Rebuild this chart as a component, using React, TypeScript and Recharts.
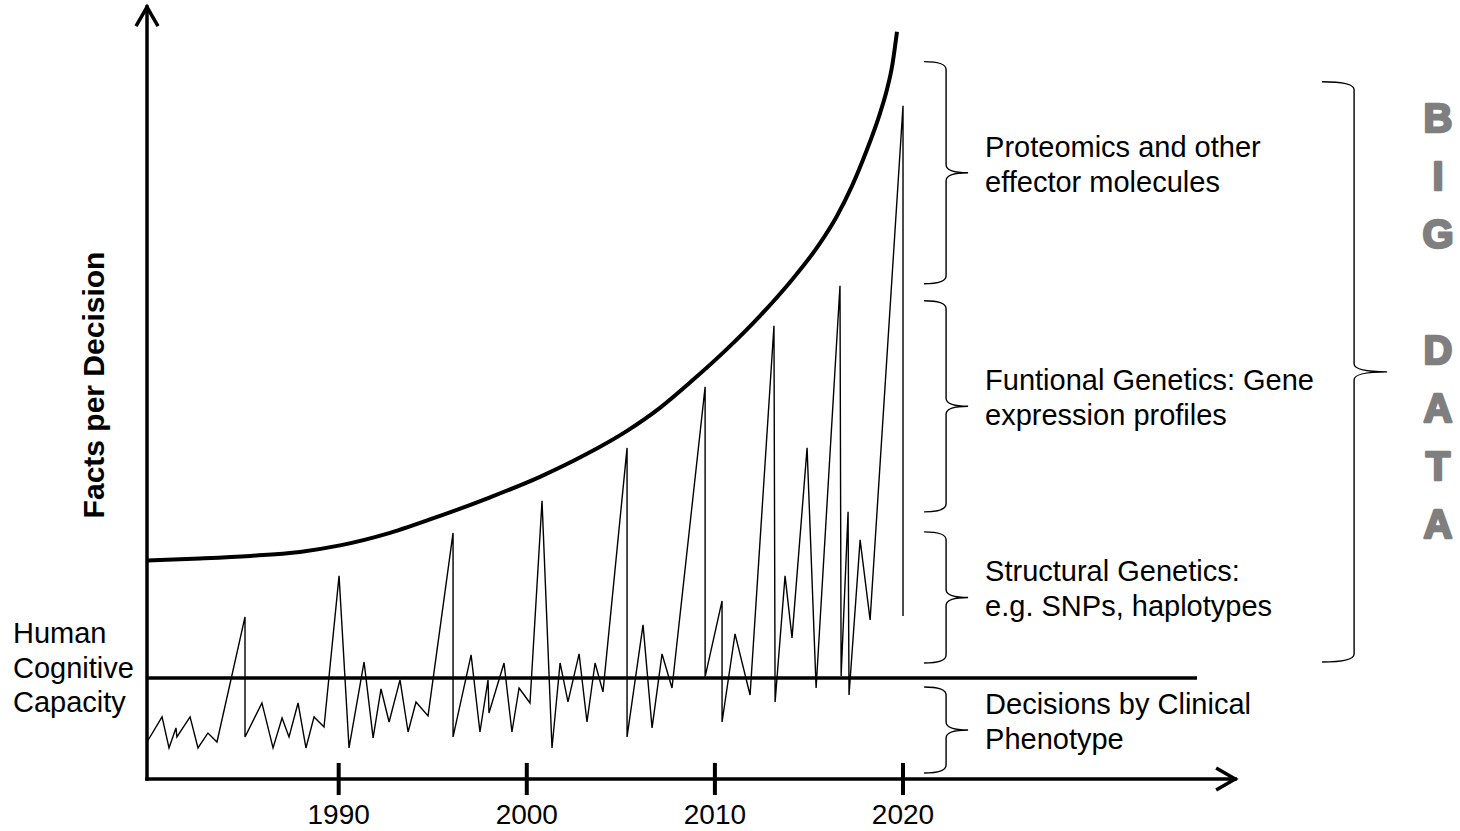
import { LineChart, Line, XAxis, YAxis, ReferenceLine } from 'recharts';

const W = 1460;
const H = 831;
const FONT = '"Liberation Sans", Arial, Helvetica, sans-serif';

// horizontal extent in years, vertical extent in "facts per decision" (arbitrary units)
const X_MIN = 1979.81;
const X_MAX = 2049.61;
const X_ARROW_END = 2037.66;
const Y_MAX = 101;

const yearTicks = [1990, 2000, 2010, 2020];

// thin zig-zag: facts per decision actually used in practice
const zigzagYears = [
  1979.81, 1980.61, 1980.98, 1981.35, 1981.4, 1982.1, 1982.52, 1983.05, 1983.53, 1985.02,
  1985.02, 1985.92, 1986.51, 1986.99, 1987.36, 1987.84, 1988.26, 1988.69, 1989.22, 1990.02,
  1990.55, 1991.35, 1991.83, 1992.25, 1992.68, 1993.26, 1993.69, 1994.11, 1994.75, 1996.08,
  1996.08, 1997.04, 1997.51, 1997.94, 1997.99, 1998.79, 1999.21, 1999.59, 2000.17, 2000.81,
  2001.34, 2001.77, 2002.19, 2002.78, 2003.2, 2003.63, 2004.05, 2005.33, 2005.33, 2006.18,
  2006.66, 2007.19, 2007.72, 2009.48, 2009.48, 2010.38, 2010.38, 2011.07, 2011.87, 2013.14,
  2013.2, 2013.73, 2014.1, 2014.9, 2015.38, 2016.65, 2016.71, 2017.08, 2017.13, 2017.72,
  2018.25, 2020.0, 2020.0,
];
const zigzagFacts = [
  4.84, 8.12, 4.06, 6.68, 5.5, 8.12, 4.06, 6.02, 4.84, 21.2,
  5.5, 9.95, 4.06, 7.98, 5.5, 9.95, 4.06, 8.12, 6.81, 26.57,
  4.06, 15.31, 5.37, 11.78, 7.46, 12.96, 6.15, 10.08, 8.25, 32.2,
  5.5, 16.23, 6.15, 12.96, 8.64, 15.18, 6.15, 11.91, 9.95, 36.39,
  4.06, 15.18, 10.08, 16.36, 7.46, 15.18, 11.39, 43.32, 5.5, 20.16,
  6.68, 16.36, 11.91, 51.31, 13.35, 23.3, 7.46, 18.98, 10.99, 59.29,
  10.08, 26.57, 18.46, 43.32, 11.91, 64.53, 13.48, 34.95, 10.99, 31.28,
  20.81, 88.09, 21.34,
];

// thick curve: facts available per decision
const curveYears = [
  1979.81, 1982.63, 1985.29, 1987.94, 1990.07, 1992.73, 1995.39, 1998.05, 2000.7, 2003.1,
  2005.33, 2007.08, 2008.84, 2010.65, 2012.4, 2013.99, 2015.59, 2016.49, 2017.29, 2018.03,
  2018.78, 2019.15, 2019.42, 2019.68,
];
const curveFacts = [
  28.6, 28.86, 29.19, 29.71, 30.56, 32.2, 34.42, 36.85, 39.53, 42.41,
  45.55, 48.56, 52.23, 56.28, 60.6, 65.0, 70.1, 73.66, 77.59, 81.99,
  87.12, 90.24, 93.25, 97.77,
];

const humanCapacity = 13.22;
const humanCapacityEnd = 2035.63;

const braceYear = 2022.29;
const braceTops = [93.85, 62.57, 32.33, 12.04];
const braceBottoms = [64.79, 34.95, 15.18, 0.79];
const braceLabels = [
  ['Proteomics and other', 'effector molecules'],
  ['Funtional Genetics: Gene', 'expression profiles'],
  ['Structural Genetics:', 'e.g. SNPs, haplotypes'],
  ['Decisions by Clinical', 'Phenotype'],
];

const bigBraceYear = 2043.98;
const bigBraceTop = 91.23;
const bigBraceBottom = 15.31;
const bigDataLetters = ['B', 'I', 'G', '', 'D', 'A', 'T', 'A'];

const zigzagData = zigzagYears.map((year, i) => ({ year, facts: zigzagFacts[i] }));
const curveData = curveYears.map((year, i) => ({ year, facts: curveFacts[i] }));

// line with an open arrow head at its far end
const arrowShape = (p: any) => {
  const { x1, y1, x2, y2 } = p;
  const horizontal = Math.abs(x2 - x1) > Math.abs(y2 - y1);
  const tipFirst = horizontal ? x1 > x2 : y1 < y2;
  const [bx, by, tx, ty] = tipFirst ? [x2, y2, x1, y1] : [x1, y1, x2, y2];
  const ang = Math.atan2(ty - by, tx - bx);
  const len = 22;
  const spread = Math.PI / 6;
  const w1x = tx - len * Math.cos(ang - spread);
  const w1y = ty - len * Math.sin(ang - spread);
  const w2x = tx - len * Math.cos(ang + spread);
  const w2y = ty - len * Math.sin(ang + spread);
  return (
    <g>
      <line x1={bx} y1={by} x2={tx} y2={ty} stroke="#000" strokeWidth={3.5} strokeLinecap="square" />
      <polyline
        points={`${w1x},${w1y} ${tx},${ty} ${w2x},${w2y}`}
        fill="none"
        stroke="#000"
        strokeWidth={3.5}
        strokeLinejoin="miter"
      />
    </g>
  );
};

// right-pointing curly brace between the two ends of a vertical segment
const braceShape = (arm: number, tip: number, lines?: string[]) => (p: any) => {
  const x = p.x1;
  const top = Math.min(p.y1, p.y2);
  const bot = Math.max(p.y1, p.y2);
  const mid = (top + bot) / 2;
  const r = 8;
  const d =
    `M${x - arm},${top} Q${x},${top} ${x},${top + r} L${x},${mid - r} ` +
    `Q${x},${mid} ${x + tip},${mid} Q${x},${mid} ${x},${mid + r} ` +
    `L${x},${bot - r} Q${x},${bot} ${x - arm},${bot}`;
  return (
    <g>
      <path d={d} fill="none" stroke="#000" strokeWidth={1.4} />
      {lines &&
        lines.map((t, i) => (
          <text key={i} x={x + 39} y={mid - 16 + i * 35} fontSize={29} fontFamily={FONT} fill="#000">
            {t}
          </text>
        ))}
    </g>
  );
};

const YearTick = (props: any) => {
  const { x, y, payload } = props;
  return (
    <text x={x} y={y + 45} textAnchor="middle" fontSize={28} fontFamily={FONT} fill="#000">
      {payload.value}
    </text>
  );
};

export default function App() {
  return (
    <div style={{ position: 'absolute', left: 0, top: 0, width: W, height: H, background: '#fff' }}>
      <LineChart width={W} height={H} margin={{ top: 7, right: 0, bottom: 0, left: 147 }}>
        <XAxis
          type="number"
          dataKey="year"
          domain={[X_MIN, X_MAX]}
          ticks={yearTicks}
          interval={0}
          height={52}
          axisLine={false}
          tickLine={false}
          tickSize={0}
          tickMargin={0}
          tick={YearTick}
          allowDataOverflow
        />
        <YAxis type="number" domain={[0, Y_MAX]} hide allowDataOverflow />

        <ReferenceLine
          segment={[{ x: X_MIN, y: 0 }, { x: X_MIN, y: Y_MAX }]}
          ifOverflow="visible"
          shape={arrowShape}
        />
        <ReferenceLine
          segment={[{ x: X_MIN, y: 0 }, { x: X_ARROW_END, y: 0 }]}
          ifOverflow="visible"
          shape={arrowShape}
        />
        {yearTicks.map((yr) => (
          <ReferenceLine
            key={yr}
            segment={[{ x: yr, y: -2.1 }, { x: yr, y: 2.1 }]}
            stroke="#000"
            strokeWidth={4}
            ifOverflow="visible"
          />
        ))}
        <ReferenceLine
          segment={[{ x: X_MIN, y: humanCapacity }, { x: humanCapacityEnd, y: humanCapacity }]}
          stroke="#000"
          strokeWidth={3.5}
          ifOverflow="visible"
        />
        {braceTops.map((top, i) => (
          <ReferenceLine
            key={'b' + i}
            segment={[{ x: braceYear, y: top }, { x: braceYear, y: braceBottoms[i] }]}
            ifOverflow="visible"
            shape={braceShape(22, 22, braceLabels[i])}
          />
        ))}
        <ReferenceLine
          segment={[{ x: bigBraceYear, y: bigBraceTop }, { x: bigBraceYear, y: bigBraceBottom }]}
          ifOverflow="visible"
          shape={braceShape(32, 33)}
        />

        <Line
          data={zigzagData}
          dataKey="facts"
          type="linear"
          stroke="#000"
          strokeWidth={1.4}
          dot={false}
          activeDot={false}
          isAnimationActive={false}
        />
        <Line
          data={curveData}
          dataKey="facts"
          type="monotone"
          stroke="#000"
          strokeWidth={4}
          dot={false}
          activeDot={false}
          isAnimationActive={false}
        />
      </LineChart>

      <svg
        width={W}
        height={H}
        style={{ position: 'absolute', left: 0, top: 0, pointerEvents: 'none' }}
      >
        <text
          x={93}
          y={385}
          transform="rotate(-90 93 385)"
          textAnchor="middle"
          dominantBaseline="central"
          fontSize={30}
          fontWeight="bold"
          fontFamily={FONT}
          fill="#000"
        >
          Facts per Decision
        </text>
        {['Human', 'Cognitive', 'Capacity'].map((t, i) => (
          <text key={t} x={13} y={643 + i * 34.5} fontSize={29} fontFamily={FONT} fill="#000">
            {t}
          </text>
        ))}
        {bigDataLetters.map((ch, i) => (
          <text
            key={i}
            x={1438}
            y={132 + i * 58}
            textAnchor="middle"
            fontSize={40}
            fontWeight="bold"
            fontFamily={FONT}
            fill="#7f7f7f"
            stroke="#7f7f7f"
            strokeWidth={2.5}
            strokeLinejoin="round"
          >
            {ch}
          </text>
        ))}
      </svg>
    </div>
  );
}
